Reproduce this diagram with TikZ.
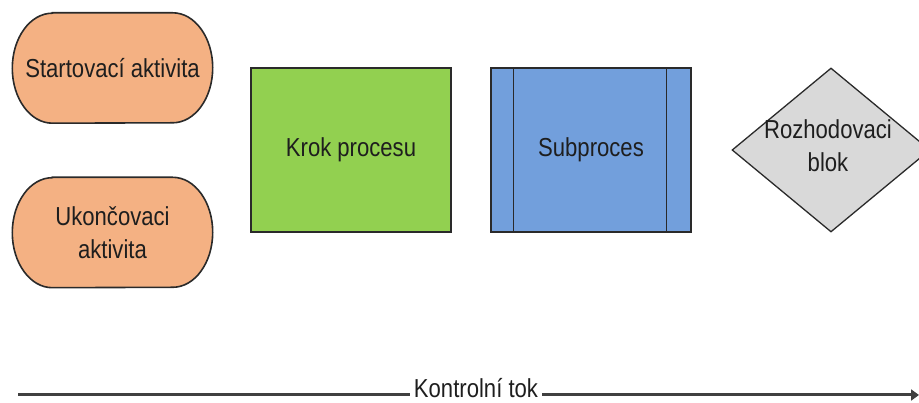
\documentclass[tikz,border=0pt]{standalone}
\usepackage{fontspec}
\setmainfont{Liberation Sans}[FakeStretch=0.85]
\usetikzlibrary{shapes.geometric,arrows.meta,backgrounds}

\definecolor{peach}{HTML}{F4B183}
\definecolor{leafgreen}{HTML}{92D050}
\definecolor{skyblue}{HTML}{729FDC}
\definecolor{lightgrey}{HTML}{D9D9D9}
\definecolor{inkdark}{HTML}{1E1E1E}
\definecolor{edgedark}{HTML}{2A2A2A}
\definecolor{flowgrey}{HTML}{404040}

\begin{document}
\begin{tikzpicture}[x=1pt,y=1pt,
  labeltext/.style={font=\fontsize{26}{33}\selectfont, text=inkdark, align=center, inner sep=0pt},
  activity/.style={labeltext, minimum width=200pt, minimum height=110pt},
  stadium/.style={fill=peach, draw=edgedark, line width=1.6pt},
  stepbox/.style={labeltext, draw=edgedark, line width=1.4pt, minimum width=200pt, minimum height=164pt},
  decisionbox/.style={diamond, draw=edgedark, line width=1.3pt, fill=lightgrey, inner sep=0pt,
    minimum width=198pt, minimum height=164pt},
  flowline/.style={draw=flowgrey, line width=3pt}
]
\clip (0,0) rectangle (919,403);

% start and end activities (stadium shapes drawn behind their text)
\node[activity] (startact) at (112.5,335) {Startovací aktivita};
\node[activity] (endact) at (112.5,170.5) {Ukončovaci\\aktivita};
\begin{scope}[on background layer]
  \foreach \n in {startact,endact}{
    \draw[stadium] ([xshift=40pt]\n.north west) -- ([xshift=-40pt]\n.north east)
      arc[start angle=90, end angle=-90, x radius=40pt, y radius=55pt]
      -- ([xshift=40pt]\n.south west)
      arc[start angle=270, end angle=90, x radius=40pt, y radius=55pt] -- cycle;
  }
\end{scope}

% process step
\node[stepbox, fill=leafgreen] (step) at (351,253) {Krok procesu};

% subprocess with its two side bars
\node[stepbox, fill=skyblue] (subproc) at (591,253) {Subproces};
\draw[draw=edgedark, line width=1.3pt] ([xshift=23pt]subproc.north west) -- ([xshift=23pt]subproc.south west);
\draw[draw=edgedark, line width=1.3pt] ([xshift=-25pt]subproc.north east) -- ([xshift=-25pt]subproc.south east);

% decision block
\node[decisionbox] (decision) at (831,253) {};
\node[labeltext] (decisiontext) at (828,257) {Rozhodovaci\\blok};

% control flow arrow
\coordinate (flowstart) at (18,8);
\coordinate (flowend) at (919,8);
\node[labeltext, anchor=base, inner xsep=4pt] (flowlabel) at (476,5) {Kontrolní tok};
\draw[flowline] (flowstart) -- (flowstart -| flowlabel.west);
\draw[flowline, -{Triangle[length=8pt,width=11pt]}] (flowlabel.east |- flowend) -- (flowend);
\end{tikzpicture}
\end{document}
